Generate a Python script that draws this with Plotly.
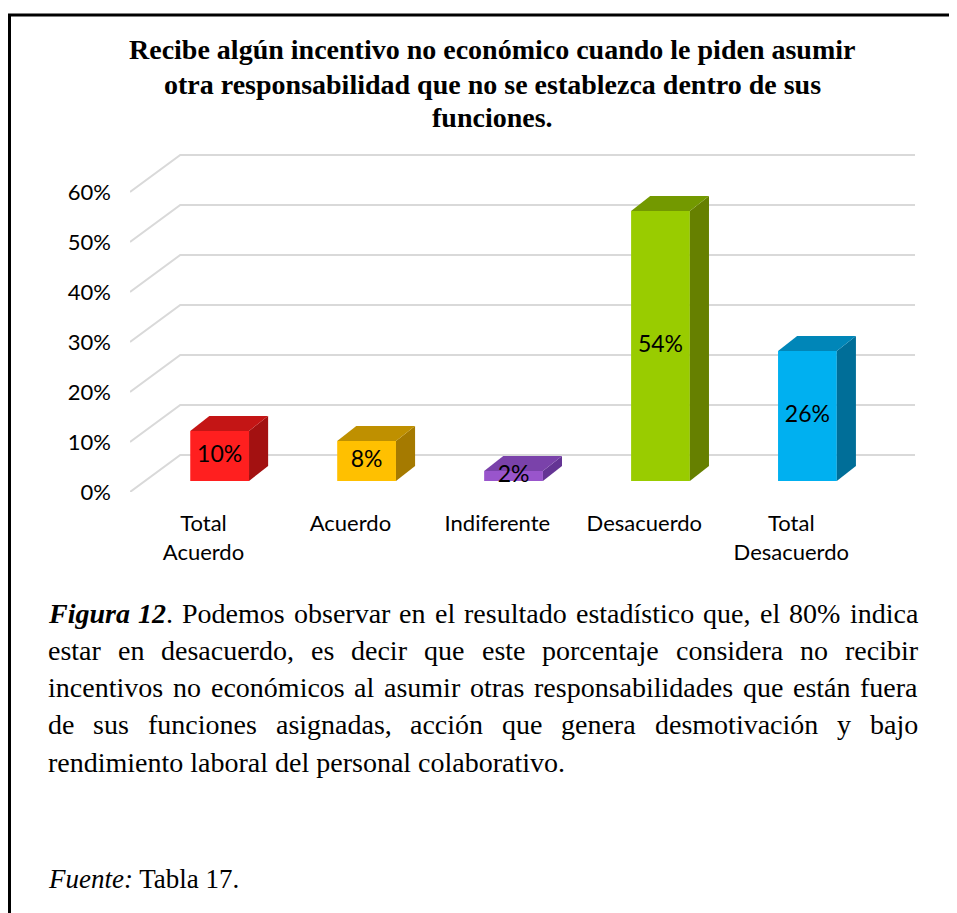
import plotly.graph_objects as go

# data
categories = ["Total<br>Acuerdo", "Acuerdo", "Indiferente", "Desacuerdo", "Total<br>Desacuerdo"]
values = [10, 8, 2, 54, 26]
value_labels = ["10%", "8%", "2%", "54%", "26%"]
front_colors = ["#FF1F1F", "#FFC000", "#9955CC", "#99CC00", "#00B0F0"]
top_colors = ["#C41515", "#BF9000", "#7A42AA", "#739900", "#0086B8"]
side_colors = ["#A31111", "#A57A00", "#643494", "#668000", "#006E98"]
y_ticks = [0, 10, 20, 30, 40, 50, 60]
y_ticktext = ["0%", "10%", "20%", "30%", "40%", "50%", "60%"]

title_lines = [
    "Recibe algún incentivo no económico cuando le piden asumir",
    "otra responsabilidad que no se establezca dentro de sus",
    "funciones.",
]

# caption words: each word is a list of (text, style)
caption_lines = [
    [[("Figura", "bi")], [("12", "bi"), (".", "r")]] + [[(w, "r")] for w in
        "Podemos observar en el resultado estadístico que, el 80% indica".split()],
    [[(w, "r")] for w in "estar en desacuerdo, es decir que este porcentaje considera no recibir".split()],
    [[(w, "r")] for w in "incentivos no económicos al asumir otras responsabilidades que están fuera".split()],
    [[(w, "r")] for w in "de sus funciones asignadas, acción que genera desmotivación y bajo".split()],
]
last_line = "rendimiento laboral del personal colaborativo."
source_line = "<i>Fuente:</i> Tabla 17."

# geometry; page body has an 8px margin, so pixel targets are shifted by OFF
OFF = 8
FIG_W, FIG_H = 957 - OFF, 913 - OFF
L, T = 130 - OFF, 152 - OFF
PW, PH = 785, 340
BACK_DX, BACK_DY = 0.342, 7.4     # back wall offset
BAR_DX, BAR_DY = 0.11, 2.2        # bar front plane offset
BAR_W = 0.40
DEP_DX, DEP_DY = 0.13, 3.0        # bar depth
X_RANGE = [-0.5, 4.5 + BACK_DX]
Y_RANGE = [0, 68]

SERIF = "Liberation Serif, Times New Roman, serif"
SANS = "Lato, Carlito, Calibri, sans-serif"

# Times metrics (1/1000 em) for justification
R_W = dict(zip("abcdefghijklmnopqrstuvwxyz",
               [444, 500, 444, 500, 444, 333, 500, 500, 278, 278, 500, 278, 778,
                500, 500, 500, 500, 333, 389, 278, 500, 500, 722, 500, 500, 444]))
R_W.update({"á": 444, "é": 444, "í": 278, "ó": 500, "ú": 500, "P": 556,
            ",": 250, ".": 250, "%": 833, " ": 250})
R_W.update({d: 500 for d in "0123456789"})
BI_W = {"F": 667, "i": 278, "g": 500, "u": 556, "r": 389, "a": 500, "1": 500, "2": 500}


def px_x(px):
    return (px - OFF - L) / PW


def px_y(py):
    return (T + PH - (py - OFF)) / PH


def word_width(word, size):
    w = 0
    for text, style in word:
        table = BI_W if style == "bi" else R_W
        w += sum(table.get(c, 500) for c in text)
    return w / 1000 * size


def word_html(word):
    out = ""
    for text, style in word:
        out += f"<b><i>{text}</i></b>" if style == "bi" else text
    return out


fig = go.Figure()

# gridlines with perspective, kept below the bars
shapes = []
for t in y_ticks:
    shapes.append(dict(
        type="path", xref="x", yref="y", layer="below",
        path=f"M {X_RANGE[0]},{t} L {X_RANGE[0] + BACK_DX},{t + BACK_DY} L {X_RANGE[1]},{t + BACK_DY}",
        line=dict(color="#D9D9D9", width=2)))

xs = [i + BAR_DX for i in range(len(values))]

# front faces
fig.add_trace(go.Bar(x=xs, y=values, base=BAR_DY, width=BAR_W,
                     marker=dict(color=front_colors, line=dict(width=0)),
                     hoverinfo="skip"))

# side and top faces
for x, v, tc, sc in zip(xs, values, top_colors, side_colors):
    x0, x1 = x - BAR_W / 2, x + BAR_W / 2
    b, h = BAR_DY, BAR_DY + v
    fig.add_trace(go.Scatter(
        x=[x1, x1 + DEP_DX, x1 + DEP_DX, x1, x1],
        y=[b, b + DEP_DY, h + DEP_DY, h, b],
        fill="toself", fillcolor=sc, mode="lines", line=dict(width=0),
        hoverinfo="skip"))
    fig.add_trace(go.Scatter(
        x=[x0, x1, x1 + DEP_DX, x0 + DEP_DX, x0],
        y=[h, h, h + DEP_DY, h + DEP_DY, h],
        fill="toself", fillcolor=tc, mode="lines", line=dict(width=0),
        hoverinfo="skip"))

# value labels
fig.add_trace(go.Scatter(
    x=xs, y=[BAR_DY + v / 2 for v in values], text=value_labels,
    mode="text", textposition="middle center",
    textfont=dict(family=SANS, size=23, color="#000000"),
    hoverinfo="skip", cliponaxis=False))

annotations = []
for k, line in enumerate(title_lines):
    annotations.append(dict(
        text=f"<b>{line}</b>", x=px_x(492), y=px_y(50 + 34 * k),
        xref="paper", yref="paper", xanchor="center", yanchor="middle",
        showarrow=False, font=dict(family=SERIF, size=28, color="#000000")))

# justified caption
CAP_SIZE = 28
left_px, right_px = 48, 918
for k, words in enumerate(caption_lines):
    widths = [word_width(w, CAP_SIZE) for w in words]
    gap = (right_px - left_px - sum(widths)) / (len(words) - 1)
    pos = left_px
    for w, wd in zip(words, widths):
        annotations.append(dict(
            text=word_html(w), x=px_x(pos - 2), y=px_y(613 + 37.3 * k),
            xref="paper", yref="paper", xanchor="left", yanchor="middle",
            showarrow=False, font=dict(family=SERIF, size=CAP_SIZE, color="#000000")))
        pos += wd + gap

annotations.append(dict(
    text=last_line, x=px_x(46), y=px_y(613 + 37.3 * 4),
    xref="paper", yref="paper", xanchor="left", yanchor="middle",
    showarrow=False, font=dict(family=SERIF, size=CAP_SIZE, color="#000000")))
annotations.append(dict(
    text=source_line, x=px_x(46), y=px_y(879),
    xref="paper", yref="paper", xanchor="left", yanchor="middle",
    showarrow=False, font=dict(family=SERIF, size=27, color="#000000")))

# frame (top and left edges)
shapes += [
    dict(type="line", xref="paper", yref="paper",
         x0=px_x(8), x1=px_x(960), y0=px_y(15), y1=px_y(15),
         line=dict(color="#000000", width=3)),
    dict(type="line", xref="paper", yref="paper",
         x0=px_x(9.5), x1=px_x(9.5), y0=px_y(14), y1=px_y(916),
         line=dict(color="#000000", width=3)),
]

fig.update_layout(
    width=FIG_W, height=FIG_H, autosize=False,
    margin=dict(l=L, r=FIG_W - L - PW, t=T, b=FIG_H - T - PH, pad=0),
    plot_bgcolor="white", paper_bgcolor="white",
    showlegend=False, annotations=annotations, shapes=shapes,
    xaxis=dict(range=X_RANGE, showgrid=False, zeroline=False, showline=False,
               tickvals=list(range(len(categories))), ticktext=categories,
               ticks="", ticklabelstandoff=16,
               tickfont=dict(family=SANS, size=22, color="#000000")),
    yaxis=dict(range=Y_RANGE, showgrid=False, zeroline=False, showline=False,
               tickvals=y_ticks, ticktext=y_ticktext, ticks="",
               ticklabelstandoff=18,
               tickfont=dict(family=SANS, size=22, color="#000000")),
)

fig.write_html("out.html", config={"displayModeBar": False})
